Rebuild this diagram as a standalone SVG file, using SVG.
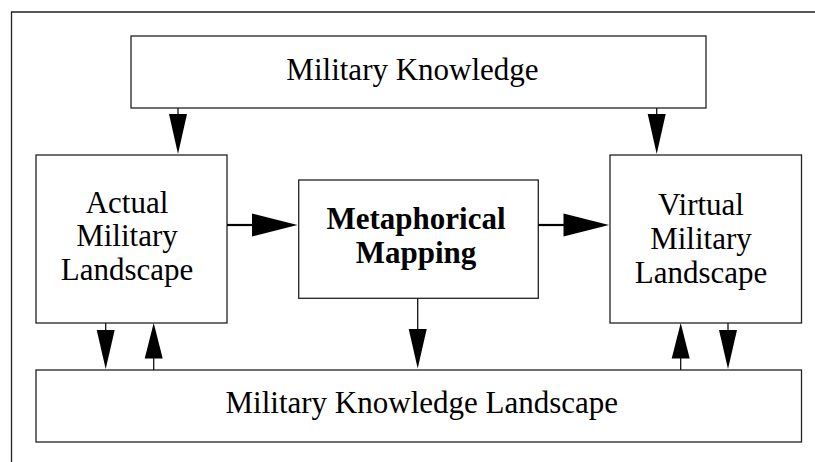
<svg xmlns="http://www.w3.org/2000/svg" width="815" height="462" viewBox="0 0 815 462">
<style>
.box{fill:#fff;stroke:#222;stroke-width:1.3}
.frame{fill:none;stroke:#222;stroke-width:1.3}
.t{font-family:"Liberation Serif","Times New Roman",serif;font-size:31px;fill:#000;text-anchor:middle}
.b{font-weight:bold;font-size:31px}
.ln{stroke:#111;stroke-width:1.3;fill:none}
.lnh{stroke:#000;stroke-width:2.2;fill:none}
.hd{fill:#000;stroke:none}
</style>
<rect width="815" height="462" fill="#fff"/>
<path class="frame" d="M11.5 462 V12 H815"/>
<g id="military-knowledge">
<rect class="box" x="131" y="36" width="575" height="72"/>
<text class="t" x="412.5" y="80">Military Knowledge</text>
</g>
<g id="actual-landscape">
<rect class="box" x="36" y="155" width="191" height="168"/>
<text class="t" x="127" y="212.7">Actual</text>
<text class="t" x="127" y="246.3">Military</text>
<text class="t" x="127" y="280">Landscape</text>
</g>
<g id="metaphorical-mapping">
<rect class="box" x="298.7" y="180" width="239.6" height="118.3"/>
<text class="t b" x="416" y="229">Metaphorical</text>
<text class="t b" x="416" y="262.5">Mapping</text>
</g>
<g id="virtual-landscape">
<rect class="box" x="610" y="155" width="191.5" height="168"/>
<text class="t" x="701" y="215">Virtual</text>
<text class="t" x="701" y="248.8">Military</text>
<text class="t" x="701" y="282.7">Landscape</text>
</g>
<g id="knowledge-landscape">
<rect class="box" x="36" y="370" width="765.5" height="72"/>
<text class="t" x="421.8" y="413.3">Military Knowledge Landscape</text>
</g>
<g id="connectors">
<line class="ln" x1="178" y1="108" x2="178" y2="114"/>
<polygon class="hd" points="169,114 187,114 178,154"/>
<line class="ln" x1="656.7" y1="108" x2="656.7" y2="114"/>
<polygon class="hd" points="647.7,114 665.7,114 656.7,154"/>
<line class="lnh" x1="227" y1="225" x2="253" y2="225"/>
<polygon class="hd" points="252,213.5 297.5,225 252,236.5"/>
<line class="lnh" x1="538.3" y1="225" x2="564" y2="225"/>
<polygon class="hd" points="563.5,213.5 609,225 563.5,236.5"/>
<line class="ln" x1="417.7" y1="298.3" x2="417.7" y2="330"/>
<polygon class="hd" points="408.7,329 426.7,329 417.7,368.5"/>
<line class="ln" x1="105.7" y1="323" x2="105.7" y2="330"/>
<polygon class="hd" points="96.7,330 114.7,330 105.7,369"/>
<line class="ln" x1="153.7" y1="358" x2="153.7" y2="370"/>
<polygon class="hd" points="144.7,358.5 162.7,358.5 153.7,323"/>
<line class="ln" x1="680.7" y1="358" x2="680.7" y2="370"/>
<polygon class="hd" points="671.7,358.5 689.7,358.5 680.7,323"/>
<line class="ln" x1="728" y1="323" x2="728" y2="330"/>
<polygon class="hd" points="719,330 737,330 728,369"/>
</g>
</svg>
